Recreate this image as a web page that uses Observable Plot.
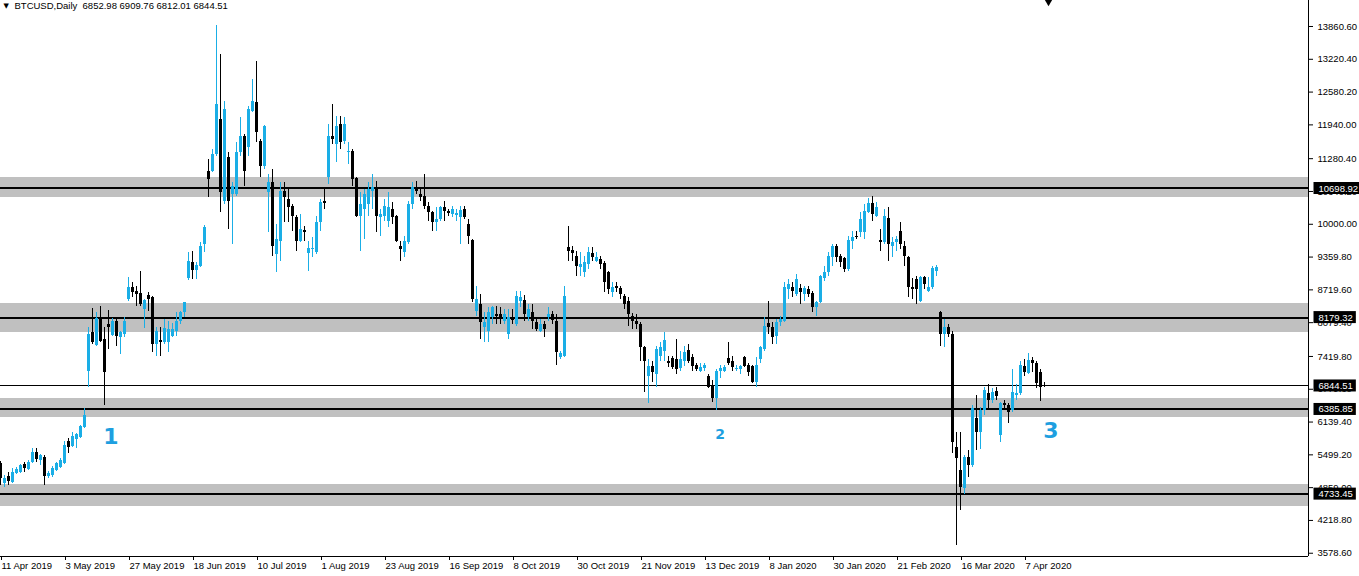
<!DOCTYPE html>
<html><head><meta charset="utf-8">
<script src="https://cdn.jsdelivr.net/npm/d3@7"></script>
<script src="https://cdn.jsdelivr.net/npm/@observablehq/plot@0.6"></script>
<style>html,body{margin:0;padding:0;background:#fff;}</style>
</head><body><div id="chart"></div>
<script>
const symbol = "BTCUSD", timeframe = "Daily";
// daily OHLC, one bar per trading day from 11 Apr 2019
const open = [5338,4947,5084,4967,5142,5162,5318,5220,5357,5553,5396,5455,5084,5103,5201,5260,5338,5768,5670,5807,
5846,6041,7117,7879,7625,8153,7742,8035,7821,8094,7781,7840,8524,8758,8680,8641,8329,8602,8563,7645,
7723,7684,7684,7801,7899,8094,8270,8935,9247,9091,9169,9599,11026,11026,11358,12043,10440,11300,10577,10577,
11397,11710,11495,12199,12375,11612,11124,10616,10811,9404,9658,10635,10479,10342,10127,9658,9873,9423,9501,9443,
10029,10440,10909,11710,11554,11944,11612,11397,11417,10890,10147,10284,10381,10635,10713,10127,10147,10049,10284,10147,
9560,9443,9638,10381,10713,10577,10538,10342,10225,10029,10088,10323,10245,10186,10166,10127,10284,9990,9677,8290,
8426,7977,7899,8172,8231,8231,8094,7840,8153,8035,8485,8504,8172,8270,8075,7899,8035,8172,8231,8094,
7390,7410,9540,9482,9365,9149,9052,9208,9423,9267,9306,9228,9052,8661,8778,8739,8583,8485,8192,8094,
8035,7586,7019,7214,7058,7410,7507,7312,7371,7351,7175,7312,7527,7390,7234,7117,7175,7019,6862,6608,
7117,7117,7371,7312,7156,7156,7390,7234,7214,6921,7351,7547,8055,7977,7801,8075,8094,8720,8758,8622,
8739,8622,8719,8641,8368,8465,8934,9052,9345,9560,9365,9326,9110,9658,9755,9833,9833,10225,10401,10147,
9677,9638,10107,9560,9638,9853,9560,9345,8758,8915,8485,8954,8680,8758,9071,8270,7840,7977,7840,5650,
5201,4849,5455,5299,6217,5944,6373,6706,6569,6745,5885,6510,6471,6373,6667,6706,7214,7078,7332,7273,
7097,6852.98];
const high = [5377,5103,5162,5240,5260,5318,5357,5396,5631,5631,5514,5494,5181,5279,5357,5435,5768,5827,5944,5924,
6081,6413,7977,8348,8270,8387,7977,8309,8153,8133,7899,8172,8954,8856,8778,9071,8524,8661,8583,7977,
7977,8133,8094,8055,8270,8290,8465,9443,9462,9247,9638,9970,11261,11456,13880,13313,12394,11397,10811,11593,
12082,11750,12297,12824,13176,11651,11925,10968,11065,9990,10811,10811,10713,10380,10170,10186,9951,9658,9736,10147,
10479,10674,11944,12336,12101,12101,12082,11593,11456,10909,10616,10674,10811,10968,10831,10284,10479,10616,10420,10170,
9658,9755,10440,10811,10831,10713,10968,10420,10245,10323,10342,10440,10284,10342,10284,10342,10342,10088,9697,8778,
8622,8270,8368,8387,8387,8368,8329,8329,8329,8680,8680,8602,8426,8426,8172,8133,8094,8368,8290,8231,
7507,8778,9951,9560,9462,9443,9365,9540,9540,9443,9365,9267,9071,8856,8856,8778,8622,8563,8251,8231,
8075,7605,7351,7312,7605,7684,7879,7410,7410,7742,7507,7605,7645,7449,7292,7292,7292,7058,6960,7156,
7253,7234,7684,7410,7253,7253,7410,7292,7253,7390,7605,8172,8485,8075,8133,8192,8856,8915,8856,9013,
8817,8778,8778,8680,8485,8993,9169,9443,9599,9599,9404,9345,9755,9853,9853,10225,10381,10498,10538,10420,
9892,10284,10323,9736,9755,10029,9658,9365,8934,8973,8973,8973,8954,9169,9189,8290,8133,8035,7899,5943,
5943,5494,5592,6471,6666,6432,6823,6882,6803,6823,6530,6569,6510,7156,6882,7312,7351,7469,7390,7312,
7156,6909.76];
const low = [4908,4869,4908,4947,5123,5142,5162,5201,5338,5357,5299,4908,5045,5064,5181,5240,5318,5533,5651,5631,
5827,6022,6823,7645,7605,7684,6471,7547,7801,7605,7449,7781,8485,8563,8387,8387,7957,8290,7488,7410,
7410,7645,7488,7781,7801,8035,8172,8895,8915,8915,9149,9443,10518,11007,11319,10225,10381,9892,9599,10538,
11319,10733,11319,12179,11593,10909,11065,9833,9365,9052,9267,10029,10029,9853,9462,9638,9658,9071,9345,9404,
9853,10284,10772,11554,11202,11456,11554,11163,10733,10127,9462,9697,10147,10284,9833,9755,10049,9931,9990,9638,
9267,9345,9599,10284,10577,10440,10284,10049,9853,9853,10049,10049,10147,10127,10049,9599,10088,9599,8465,8192,
7742,7684,7684,8035,8035,8035,8035,7742,8035,7996,8368,8094,8094,7938,7899,7879,7781,8094,8035,7253,
7351,7390,9267,9267,8974,8974,8954,9110,9267,9247,9110,8661,8622,8563,8661,8524,8329,7996,7938,7938,
7312,6725,6510,6921,6823,7312,7312,7195,7156,7058,7117,7214,7292,7117,7117,7097,7117,6803,6530,6373,
6999,7097,7253,7117,7117,7058,7195,7019,6901,6823,7292,7507,7840,7645,7645,7996,8075,8524,8563,8583,
8426,8485,8563,8270,8192,8446,8876,8973,9169,9247,9149,9052,9071,9501,9697,9736,9697,10205,10049,10127,
9462,9599,9267,9345,9462,9501,9169,8563,8524,8426,8465,8719,8661,8719,8973,7605,7586,7781,5533,3735,
4419,4732,5064,5260,5592,5611,6276,6413,6510,6569,5748,6373,6119,6335,6569,6667,7019,7058,7097,6803,
6549,6812.01];
const close = [5045,5045,4986,5162,5220,5299,5240,5357,5553,5416,5494,5084,5142,5240,5338,5396,5690,5651,5866,5905,
6061,6276,7840,7684,8153,7703,7097,7977,8094,7801,7879,8094,8758,8661,8622,8426,8504,8524,7645,7899,
7684,7957,7938,7938,8094,8270,8465,9267,9091,9189,9560,9931,10870,11358,12336,10616,12238,10440,10733,11397,
11710,11026,12238,12394,11788,11124,11905,10811,9560,9697,10635,10518,10323,10147,9658,9892,9833,9521,9521,10029,
10420,10401,11710,11651,11905,11593,11944,11417,10870,10147,10381,10577,10674,10713,10147,10186,10342,10323,10127,9658,
9501,9658,10381,10713,10635,10518,10342,10225,10029,10088,10323,10245,10205,10284,10205,10264,10127,9755,8524,8524,
8075,8075,8270,8368,8192,8133,8231,8172,8114,8583,8563,8231,8329,8094,7938,8035,7938,8231,8114,7488,
7468,8583,9462,9423,9169,9208,9247,9443,9345,9345,9208,8857,8719,8758,8739,8622,8426,8231,8094,8035,
7586,7312,7214,7097,7547,7586,7723,7292,7195,7156,7351,7488,7312,7214,7156,7195,7234,6823,6608,7117,
7175,7195,7292,7195,7175,7214,7214,7097,6921,7253,7586,7996,7977,7781,8075,8133,8758,8817,8680,8915,
8661,8739,8622,8368,8465,8973,9052,9365,9560,9345,9247,9110,9677,9736,9736,10088,10244,10401,10186,10323,
9638,10147,9599,9638,9697,9599,9365,8758,8719,8719,8954,8817,8758,9130,9149,7840,7977,7840,5748,5435,
4869,5455,5299,6413,5944,6373,6764,6569,6725,6647,6510,6471,6335,6725,6706,7234,7097,7332,7273,6901,
6823,6844.51];

const dateLabels = ["11 Apr 2019","3 May 2019","27 May 2019","18 Jun 2019","10 Jul 2019","1 Aug 2019","23 Aug 2019",
"16 Sep 2019","8 Oct 2019","30 Oct 2019","21 Nov 2019","13 Dec 2019","8 Jan 2020","30 Jan 2020","21 Feb 2020",
"16 Mar 2020","7 Apr 2020"];
const dateLabelBars = [0,16,32,48,64,80,96,112,128,144,160,176,192,208,224,240,256];
const yTicks = [13860.60,13220.40,12580.20,11940.00,11280.40,10640.20,10000.00,9359.80,8719.60,8079.40,
7419.80,6779.60,6139.40,5499.20,4859.00,4218.80,3578.60];
const levels = [10698.92, 8179.32, 6385.85, 4733.45];
const bandLow = [10523, 7888, 6229, 4491];
const bandHigh = [10913, 8454, 6599, 4921];
const bidPrice = 6844.51;
const noteText = ["1", "2", "3"];
const noteBar = [27.6, 179.9, 262.6];
const notePrice = [5858, 5897, 5975];
const shiftBar = 262;

const BULL = "#1aaee6", BEAR = "#000000";
const bars = open.map((o, i) => ({i, o, h: high[i], l: low[i], c: close[i], up: close[i] >= o}));
const bodyLo = d => { const lo = Math.min(d.o, d.c), hi = Math.max(d.o, d.c); return hi - lo < 20 ? (lo + hi) / 2 - 10 : lo; };
const bodyHi = d => { const lo = Math.min(d.o, d.c), hi = Math.max(d.o, d.c); return hi - lo < 20 ? (lo + hi) / 2 + 10 : hi; };
const bands = bandLow.map((lo, k) => ({lo, hi: bandHigh[k]}));
const labelMap = new Map(dateLabelBars.map((b, k) => [b, dateLabels[k]]));
const notes = noteText.map((t, k) => ({t, bar: noteBar[k], price: notePrice[k]}));
const boxes = [...levels, bidPrice].sort((a, b) => b - a);
const boxStrings = new Set(boxes.map(d => d.toFixed(2)));
const last = bars[bars.length - 1];
const header = `${symbol},${timeframe}\u00a0 ${last.o.toFixed(2)} ${last.h.toFixed(2)} ${last.l.toFixed(2)} ${last.c.toFixed(2)}`;

const xDomain = [0, 327];
const yDomain = [3515, 14368];
const crisp = "crispEdges";

const chart = Plot.plot({
  width: 1359, height: 576,
  marginLeft: 0, marginRight: 51, marginTop: 0, marginBottom: 20,
  style: {fontFamily: "'Liberation Sans', Arial, sans-serif", fontSize: "9.5px", background: "#fff", color: "#000", overflow: "visible"},
  x: {type: "linear", domain: xDomain},
  y: {type: "linear", domain: yDomain},
  marks: [
    Plot.rect(bands, {y1: "lo", y2: "hi", fill: "#c0c0c0", shapeRendering: crisp}),
    Plot.ruleY(levels, {stroke: "#000", strokeWidth: 2, shapeRendering: crisp}),
    Plot.ruleY([bidPrice], {stroke: "#000", strokeWidth: 1, shapeRendering: crisp}),
    Plot.ruleX(bars.filter(d => d.up), {x: "i", y1: "l", y2: "h", stroke: BULL, strokeWidth: 1, shapeRendering: crisp}),
    Plot.ruleX(bars.filter(d => !d.up), {x: "i", y1: "l", y2: "h", stroke: BEAR, strokeWidth: 1, shapeRendering: crisp}),
    Plot.ruleX(bars.filter(d => d.up), {x: "i", y1: bodyLo, y2: bodyHi, stroke: BULL, strokeWidth: 3, shapeRendering: crisp}),
    Plot.ruleX(bars.filter(d => !d.up), {x: "i", y1: bodyLo, y2: bodyHi, stroke: BEAR, strokeWidth: 3, shapeRendering: crisp}),
    Plot.ruleX([xDomain[1]], {stroke: "#000", shapeRendering: crisp}),
    Plot.ruleY([yDomain[0]], {stroke: "#000", shapeRendering: crisp}),
    Plot.axisY({anchor: "right", ticks: yTicks, tickFormat: d => d.toFixed(2), tickSize: 4, tickPadding: 5, fill: "#000"}),
    Plot.axisX({anchor: "bottom", ticks: dateLabelBars, tickFormat: d => labelMap.get(d), tickSize: 4, tickPadding: 2, textAnchor: "start", dx: 1, fill: "#000"}),
    Plot.text(boxes, {y: d => d, frameAnchor: "right", dx: 10, text: d => d.toFixed(2), fill: "#ffffff", textAnchor: "start"}),
    Plot.text(["\u25BC"], {frameAnchor: "top-left", dx: 3, dy: 3, lineAnchor: "top", textAnchor: "start", fontSize: 7, fontFamily: "DejaVu Sans"}),
    Plot.text([header], {frameAnchor: "top-left", dx: 14, dy: 2, lineAnchor: "top", textAnchor: "start"}),
    Plot.text(notes, {x: "bar", y: "price", text: "t", fill: "#1e9fe0", fontWeight: "bold", fontFamily: "DejaVu Sans",
      fontSize: d => d.t === "2" ? 14 : 22}),
    Plot.dot([shiftBar], {x: d => d, frameAnchor: "top", symbol: "triangle", rotate: 180, r: 3.7, fill: "#000", stroke: "none"})
  ]
});
document.getElementById("chart").appendChild(chart);

// black boxes behind the price labels on the right scale
const svgNS = "http://www.w3.org/2000/svg";
Array.from(chart.querySelectorAll("text")).forEach(t => {
  const fill = getComputedStyle(t).fill;
  if (!boxStrings.has(t.textContent.trim())) return;
  if (!(fill === "rgb(255, 255, 255)" || fill === "#ffffff" || fill === "white")) return;
  const b = t.getBBox();
  const r = document.createElementNS(svgNS, "rect");
  const tr = t.getAttribute("transform");
  if (tr) r.setAttribute("transform", tr);
  r.setAttribute("x", b.x - 5);
  r.setAttribute("y", b.y + b.height / 2 - 6);
  r.setAttribute("width", b.width + 8);
  r.setAttribute("height", 12);
  r.setAttribute("fill", "#000");
  t.parentNode.insertBefore(r, t);
});
</script>
</body></html>
